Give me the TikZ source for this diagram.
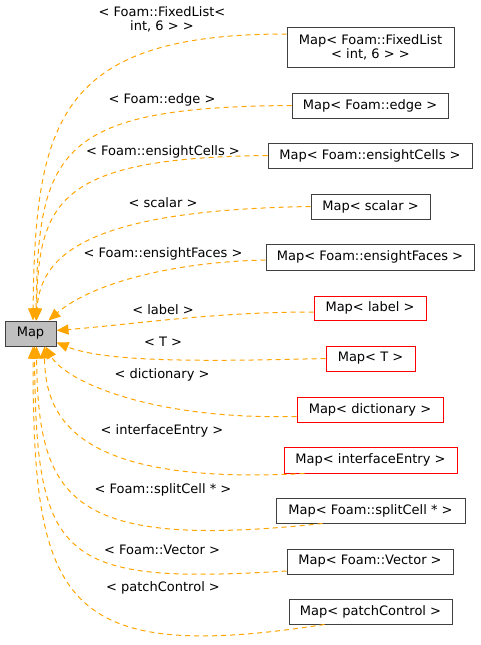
\documentclass[tikz,border=0pt]{standalone}
\usepackage{fontspec}
\setmainfont{DejaVu Sans}
\usetikzlibrary{arrows.meta}

\definecolor{tmplorange}{HTML}{FFA500}
\definecolor{boxgray}{HTML}{404040}
\definecolor{basefill}{HTML}{BFBFBF}

\begin{document}
\begin{tikzpicture}[x=1pt,y=-1pt,
    cls/.style={draw=boxgray, line width=1pt, inner sep=0pt, align=center,
      minimum height=25pt, font=\fontsize{13}{14}\selectfont},
    undoc/.style={cls, draw=red},
    targ/.style={inner sep=0pt, align=center, font=\fontsize{13}{14}\selectfont},
    tmpl/.style={tmplorange, line width=1pt, dash pattern=on 5pt off 4pt,
      -{Triangle[length=12pt,width=10pt]}}]

    % 1. Page frame (pixel units, y downwards)
    \useasboundingbox (0,0) rectangle (480,645);

    % 2. The base class
    \node[cls, fill=basefill, minimum width=51pt] (map) at (30.5,333.5) {Map};

    % 3. The instantiations (right column)
    \node[cls, minimum width=167pt, minimum height=40pt] (fl) at (370.5,47) {Map< Foam::FixedList\\< int, 6 > >};
    \node[cls, minimum width=156pt] (edge) at (370,105.5) {Map< Foam::edge >};
    \node[cls, minimum width=204pt] (cells) at (370,155.5) {Map< Foam::ensightCells >};
    \node[cls, minimum width=119pt] (scalar) at (370.5,206.5) {Map< scalar >};
    \node[cls, minimum width=208pt, minimum height=26pt] (faces) at (370,257) {Map< Foam::ensightFaces >};
    \node[undoc, minimum width=112pt, minimum height=24pt] (label) at (370,308) {Map< label >};
    \node[undoc, minimum width=89pt] (T) at (370.5,358.5) {Map< T >};
    \node[undoc, minimum width=146pt] (dict) at (370,409.5) {Map< dictionary >};
    \node[undoc, minimum width=173pt, minimum height=26pt] (ie) at (370.5,460) {Map< interfaceEntry >};
    \node[cls, minimum width=189pt] (split) at (370.5,510.5) {Map< Foam::splitCell * >};
    \node[cls, minimum width=166pt] (vec) at (370,561.5) {Map< Foam::Vector >};
    \node[cls, minimum width=163pt] (pc) at (370.5,611.5) {Map< patchControl >};

    % 4. Template arguments
    \node[targ] (lfl) at (162,19) {< Foam::FixedList<\\int, 6 > >};
    \node[targ] (ledge) at (162,100) {< Foam::edge >};
    \node[targ] (lcells) at (163,152) {< Foam::ensightCells >};
    \node[targ] (lscalar) at (163,203) {< scalar >};
    \node[targ] (lfaces) at (163,254) {< Foam::ensightFaces >};
    \node[targ] (llabel) at (163,310) {< label >};
    \node[targ] (lT) at (163,342) {< T >};
    \node[targ] (ldict) at (162,375) {< dictionary >};
    \node[targ] (lie) at (162,431) {< interfaceEntry >};
    \node[targ] (lsplit) at (163,490) {< Foam::splitCell * >};
    \node[targ] (lvec) at (162,550) {< Foam::Vector >};
    \node[targ] (lpc) at (163,588) {< patchControl >};

    % 5. Dashed template edges into Map
    \draw[tmpl] ([yshift=13pt]fl.west) .. controls +(-227,0) and +(2,-201) .. ([xshift=2.5pt]map.north);
    \draw[tmpl] (edge.west) .. controls +(-232,1.5) and +(2,-171) .. ([xshift=5.5pt]map.north);
    \draw[tmpl] (cells.west) .. controls +(-208,2.5) and +(1.5,-121) .. ([xshift=6pt]map.north);
    \draw[tmpl] (scalar.west) .. controls +(-211,3.5) and +(3.5,-71) .. ([xshift=6pt]map.north);
    \draw[tmpl] ([yshift=-3pt]faces.west) .. controls +(-96,2) and +(41.5,-36) .. ([xshift=18pt]map.north);
    \draw[tmpl] ([yshift=-4pt]label.west) .. controls +(-100,0) and +(80,-6.5) .. ([yshift=3pt]map.east);
    \draw[tmpl] (T.west) .. controls +(-120,3) and +(50,20) .. ([yshift=-9pt]map.east);
    \draw[tmpl] ([yshift=-7pt]dict.west) .. controls +(-147,3.5) and +(19.5,34) .. ([xshift=15pt]map.south);
    \draw[tmpl] ([xshift=21pt]ie.south west) .. controls +(-225,12) and +(0.5,74) .. ([xshift=14pt]map.south);
    \draw[tmpl] ([xshift=47pt]split.south west) .. controls +(-253,27) and +(1.5,154) .. ([xshift=6pt]map.south);
    \draw[tmpl] ([yshift=-9.5pt]vec.west) .. controls +(-227,14) and +(1.5,214) .. ([xshift=4pt]map.south);
    \draw[tmpl] ([xshift=36pt]pc.south west) .. controls +(-265,41) and +(0,254) .. ([xshift=2.5pt]map.south);

\end{tikzpicture}
\end{document}
